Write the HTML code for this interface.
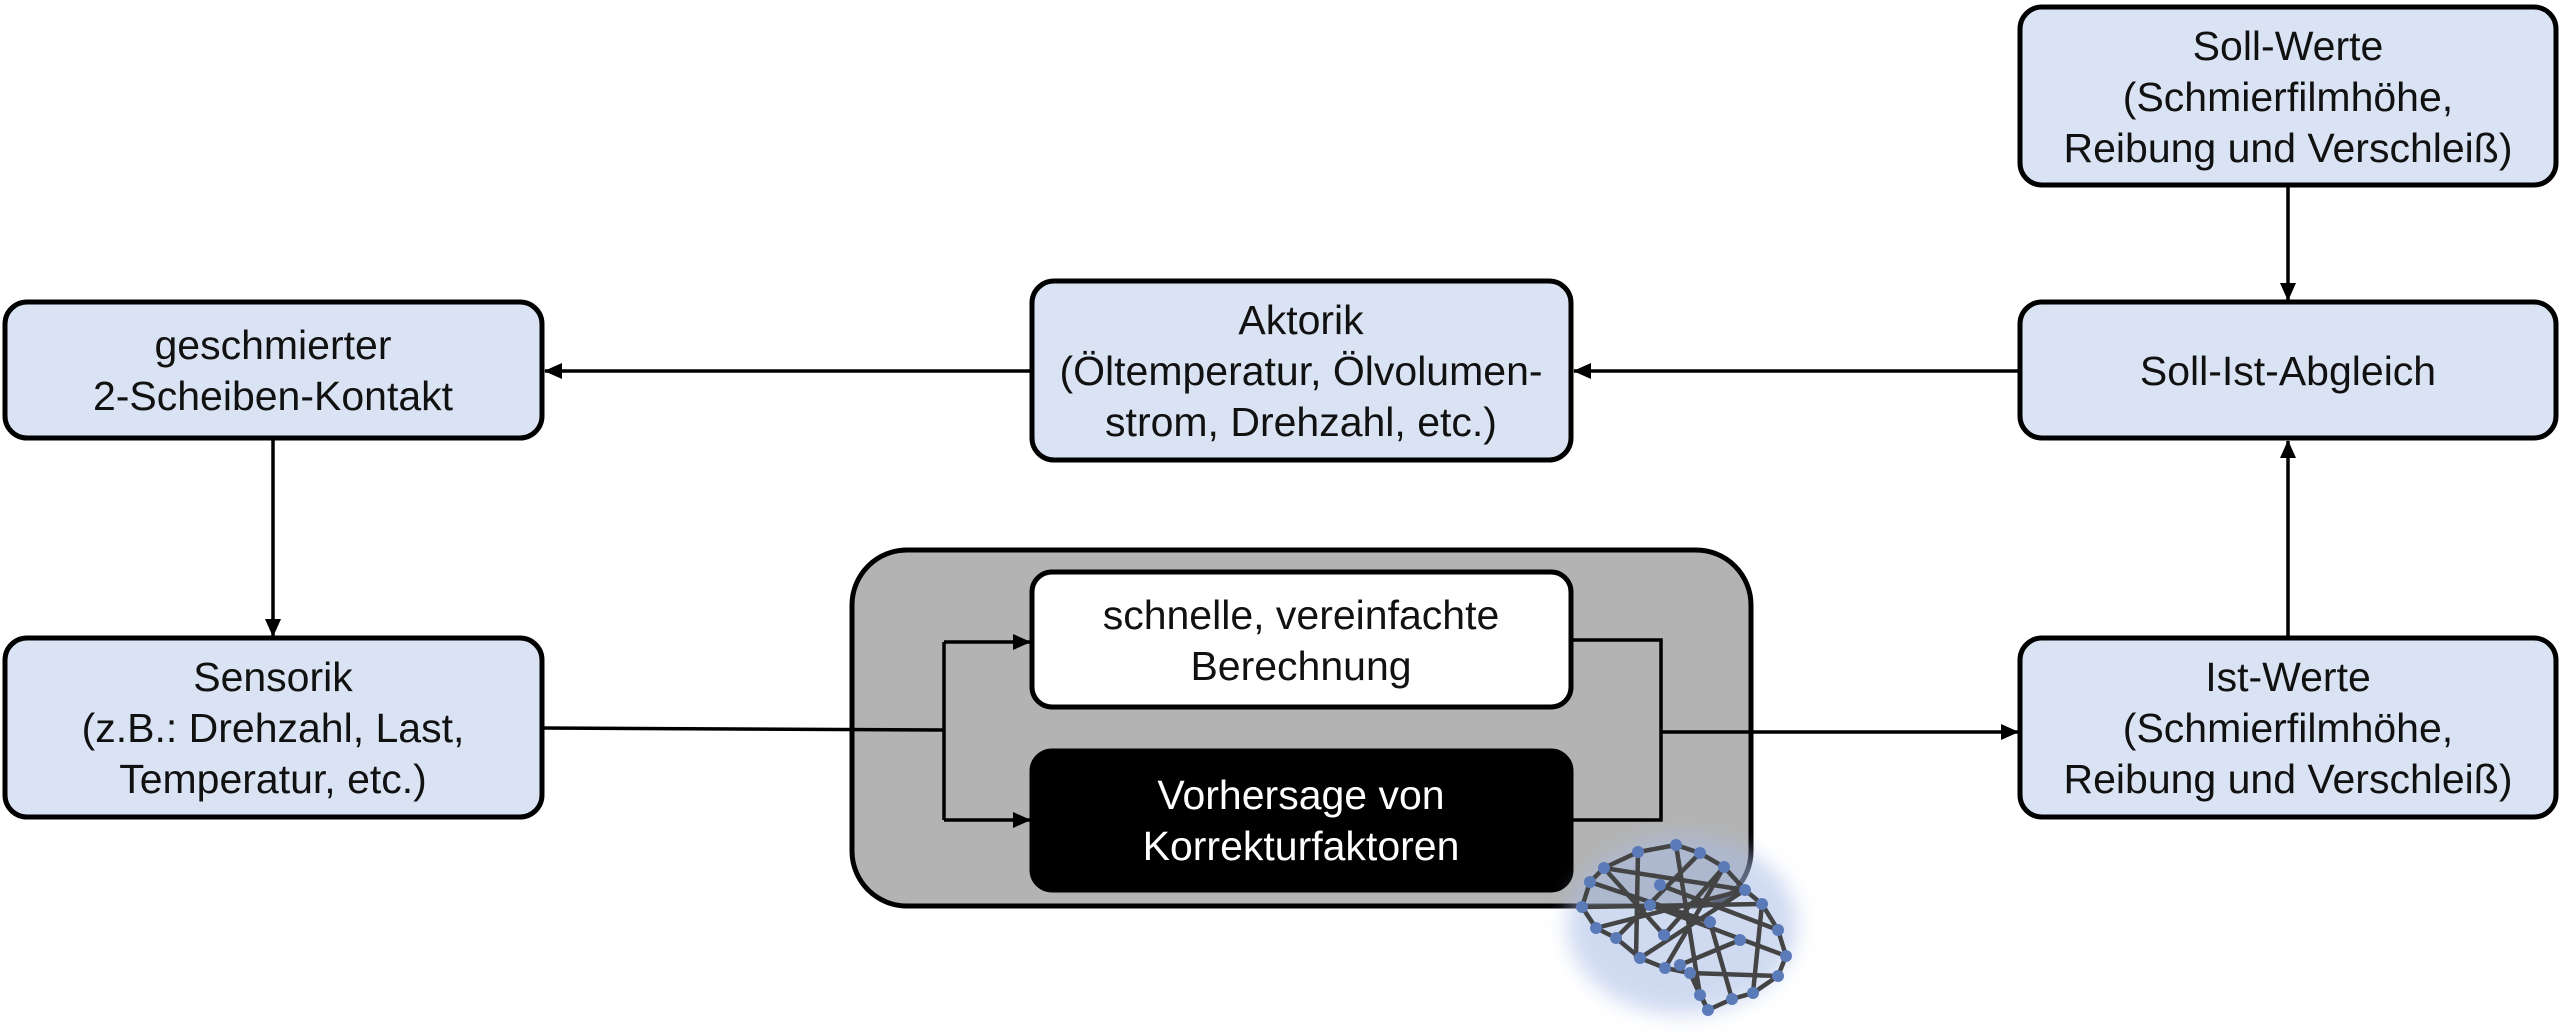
<!DOCTYPE html>
<html><head><meta charset="utf-8"><style>
html,body{margin:0;padding:0;background:#fff;}
svg{display:block;}
text{font-family:"Liberation Sans",sans-serif;font-size:41px;text-anchor:middle;fill:#111;}
</style></head><body>
<svg width="2560" height="1032" viewBox="0 0 2560 1032" xmlns="http://www.w3.org/2000/svg">
<defs>
<marker id="ah" markerWidth="18" markerHeight="16" refX="17" refY="8" orient="auto" markerUnits="userSpaceOnUse" viewBox="0 0 18 16">
<path d="M0,0 L18,8 L0,16 z" fill="#000"/></marker>
<filter id="glow" x="-30%" y="-30%" width="160%" height="160%"><feGaussianBlur stdDeviation="10"/></filter>
</defs>
<g stroke="#000" stroke-width="5" fill="#dae3f3">
<rect x="5" y="302" width="537" height="136" rx="22"/>
<rect x="5" y="638" width="537" height="179" rx="22"/>
<rect x="1032" y="281" width="539" height="179" rx="22"/>
<rect x="2020" y="7" width="536" height="178" rx="22"/>
<rect x="2020" y="302" width="536" height="136" rx="22"/>
<rect x="2020" y="638" width="536" height="179" rx="22"/>
<rect x="852" y="550" width="899" height="356" rx="55" fill="#b3b3b3"/>
<rect x="1032" y="572" width="539" height="135" rx="20" fill="#fff"/>
<rect x="1032" y="751" width="539" height="139" rx="20" fill="#000"/>
</g>
<g stroke="#000" stroke-width="3.5" fill="none">
<line x1="1032" y1="371" x2="545" y2="371" marker-end="url(#ah)"/>
<line x1="2020" y1="371" x2="1574" y2="371" marker-end="url(#ah)"/>
<line x1="273" y1="438" x2="273" y2="636" marker-end="url(#ah)"/>
<line x1="2288" y1="185" x2="2288" y2="300" marker-end="url(#ah)"/>
<line x1="2288" y1="638" x2="2288" y2="441" marker-end="url(#ah)"/>
<polyline points="542,728 944,730"/>
<polyline points="944,642 944,820"/>
<line x1="944" y1="642" x2="1030" y2="642" marker-end="url(#ah)"/>
<line x1="944" y1="820" x2="1030" y2="820" marker-end="url(#ah)"/>
<polyline points="1571,640 1661,640 1661,820 1571,820"/>
<line x1="1661" y1="732" x2="2018" y2="732" marker-end="url(#ah)"/>
</g>
<!-- brain -->
<g>
<ellipse cx="1682" cy="925" rx="115" ry="90" fill="#a9bde6" opacity="0.55" filter="url(#glow)"/>
<g stroke="#444" stroke-width="4.5" fill="none">
<polyline points="1582,907 1590,882 1604,868 1638,852 1676,845 1700,853 1724,867 1745,890 1762,904 1778,930 1786,956 1778,976 1753,993 1732,999 1708,1010 1700,995 1690,973 1665,968 1640,958 1616,938 1596,928 1582,907"/>
<line x1="1638" y1="852" x2="1636" y2="958"/><line x1="1604" y1="868" x2="1745" y2="890"/>
<line x1="1582" y1="907" x2="1762" y2="904"/><line x1="1590" y1="882" x2="1710" y2="922"/>
<line x1="1676" y1="845" x2="1700" y2="995"/><line x1="1700" y1="853" x2="1616" y2="938"/>
<line x1="1724" y1="867" x2="1665" y2="968"/><line x1="1745" y1="890" x2="1640" y2="958"/>
<line x1="1660" y1="885" x2="1778" y2="930"/><line x1="1650" y1="905" x2="1786" y2="956"/>
<line x1="1596" y1="928" x2="1745" y2="890"/><line x1="1690" y1="973" x2="1778" y2="976"/>
<line x1="1710" y1="922" x2="1732" y2="999"/><line x1="1762" y1="904" x2="1753" y2="993"/>
<line x1="1664" y1="935" x2="1724" y2="867"/><line x1="1604" y1="868" x2="1664" y2="935"/>
<line x1="1708" y1="1010" x2="1690" y2="973"/><line x1="1680" y1="965" x2="1740" y2="940"/>
</g>
<g fill="#5b7bb8">
<circle cx="1582" cy="907" r="6"/><circle cx="1590" cy="882" r="6"/><circle cx="1604" cy="868" r="6"/>
<circle cx="1638" cy="852" r="6"/><circle cx="1676" cy="845" r="6"/><circle cx="1700" cy="853" r="6"/>
<circle cx="1724" cy="867" r="6"/><circle cx="1745" cy="890" r="6"/><circle cx="1762" cy="904" r="6"/>
<circle cx="1778" cy="930" r="6"/><circle cx="1786" cy="956" r="6"/><circle cx="1778" cy="976" r="6"/>
<circle cx="1753" cy="993" r="6"/><circle cx="1732" cy="999" r="6"/><circle cx="1708" cy="1010" r="6"/>
<circle cx="1700" cy="995" r="6"/><circle cx="1690" cy="973" r="6"/><circle cx="1665" cy="968" r="6"/>
<circle cx="1640" cy="958" r="6"/><circle cx="1616" cy="938" r="6"/><circle cx="1596" cy="928" r="6"/>
<circle cx="1660" cy="885" r="6"/><circle cx="1650" cy="905" r="6"/><circle cx="1710" cy="922" r="6"/>
<circle cx="1664" cy="935" r="6"/><circle cx="1740" cy="940" r="6"/><circle cx="1680" cy="965" r="6"/>
</g>
</g>
<text x="273" y="359">geschmierter</text>
<text x="273" y="410">2-Scheiben-Kontakt</text>
<text x="273" y="691">Sensorik</text>
<text x="273" y="742">(z.B.: Drehzahl, Last,</text>
<text x="273" y="793">Temperatur, etc.)</text>
<text x="1301" y="334">Aktorik</text>
<text x="1301" y="385">(Öltemperatur, Ölvolumen-</text>
<text x="1301" y="436">strom, Drehzahl, etc.)</text>
<text x="2288" y="60">Soll-Werte</text>
<text x="2288" y="111">(Schmierfilmhöhe,</text>
<text x="2288" y="162">Reibung und Verschleiß)</text>
<text x="2288" y="385">Soll-Ist-Abgleich</text>
<text x="2288" y="691">Ist-Werte</text>
<text x="2288" y="742">(Schmierfilmhöhe,</text>
<text x="2288" y="793">Reibung und Verschleiß)</text>
<text x="1301" y="629">schnelle, vereinfachte</text>
<text x="1301" y="680">Berechnung</text>
<text x="1301" y="809" style="fill:#fff">Vorhersage von</text>
<text x="1301" y="860" style="fill:#fff">Korrekturfaktoren</text>
</svg>
</body></html>
